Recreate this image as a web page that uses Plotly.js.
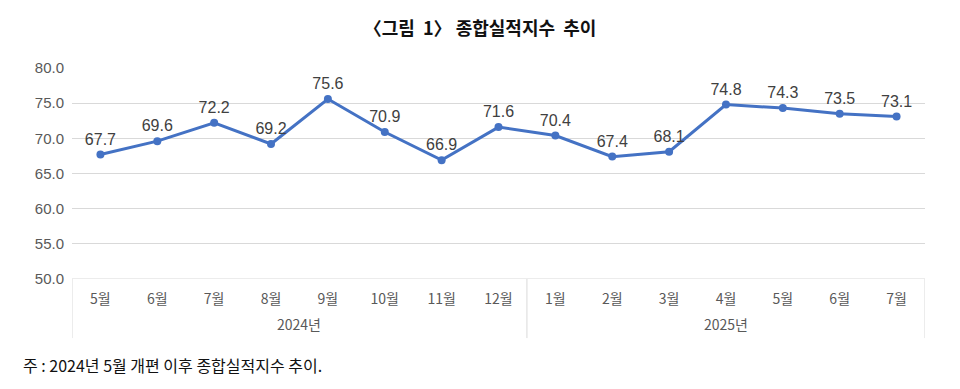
<!DOCTYPE html>
<html><head><meta charset="utf-8">
<script src="https://cdn.plot.ly/plotly-3.0.1.min.js"></script>
<style>html,body{margin:0;padding:0;background:#fff}</style>
</head><body><div id="chart" style="width:960px;height:389px"></div>
<script>
const months = ['5월','6월','7월','8월','9월','10월','11월','12월','1월','2월','3월','4월','5월','6월','7월'];
const values = [67.7,69.6,72.2,69.2,75.6,70.9,66.9,71.6,70.4,67.4,68.1,74.8,74.3,73.5,73.1];
const years = ['2024년','2025년'];
const yearSpans = [[0,7],[8,14]];
const idx = months.map((m,i)=>i);
const font = '"Noto Sans CJK KR", "Noto Sans", sans-serif';
const gray = '#595959';
const boxBottom = -0.28;

const shapes = [];
const bounds = [-0.5, 7.5, 14.5];
bounds.forEach(b => shapes.push({type:'line', xref:'x', yref:'paper', x0:b, x1:b, y0:0, y1:boxBottom, line:{color:'#d9d9d9', width:1}}));
shapes.push({type:'line', xref:'x', yref:'y', x0:-0.5, x1:14.5, y0:50, y1:50, line:{color:'#d9d9d9', width:1}});

const annotations = years.map((y,i)=>({
  x:(yearSpans[i][0]+yearSpans[i][1])/2, xref:'x', y:boxBottom, yref:'paper', yanchor:'bottom', yshift:2,
  text:y, showarrow:false, font:{family:font, size:14, color:gray}
}));
annotations.push({x:0, xref:'paper', xanchor:'left', xshift:-51, y:-0.34, yref:'paper', yanchor:'top', text:'주 : 2024년 5월 개편 이후 종합실적지수 추이.', showarrow:false, font:{family:font, size:16, color:'#111'}});

const trace = {
  x: idx, y: values, type:'scatter', mode:'lines+markers+text',
  text: values.map(v=>v.toFixed(1)), textposition:'top center',
  textfont:{family:'"Liberation Sans", Arial, sans-serif', size:16, color:'#404040'},
  line:{color:'#4472C4', width:3}, marker:{color:'#4472C4', size:8},
  cliponaxis:false, hoverinfo:'none'
};

const layout = {
  width:960, height:389,
  margin:{l:72, r:35, t:68, b:110},
  paper_bgcolor:'#fff', plot_bgcolor:'#fff',
  showlegend:false,
  title:{text:'〈그림  1〉 종합실적지수  추이', x:0.5, xref:'container', y:0.925, yanchor:'middle', font:{family:font, size:18, color:'#111', weight:'bold'}},
  xaxis:{range:[-0.5,14.5], tickvals:idx, ticktext:months, showgrid:false, zeroline:false, showline:false, ticks:'', ticklabelstandoff:10, tickfont:{family:font, size:14, color:gray}, fixedrange:true},
  yaxis:{range:[50,80], dtick:5, tickformat:'.1f', showgrid:true, gridcolor:'#d9d9d9', gridwidth:1, zeroline:false, showline:false, ticks:'', ticklabelstandoff:7, tickfont:{family:'"Liberation Sans", Arial, sans-serif', size:15, color:gray}, fixedrange:true},
  shapes: shapes,
  annotations: annotations
};
Plotly.newPlot('chart', [trace], layout, {displayModeBar:false, staticPlot:true});
</script></body></html>
